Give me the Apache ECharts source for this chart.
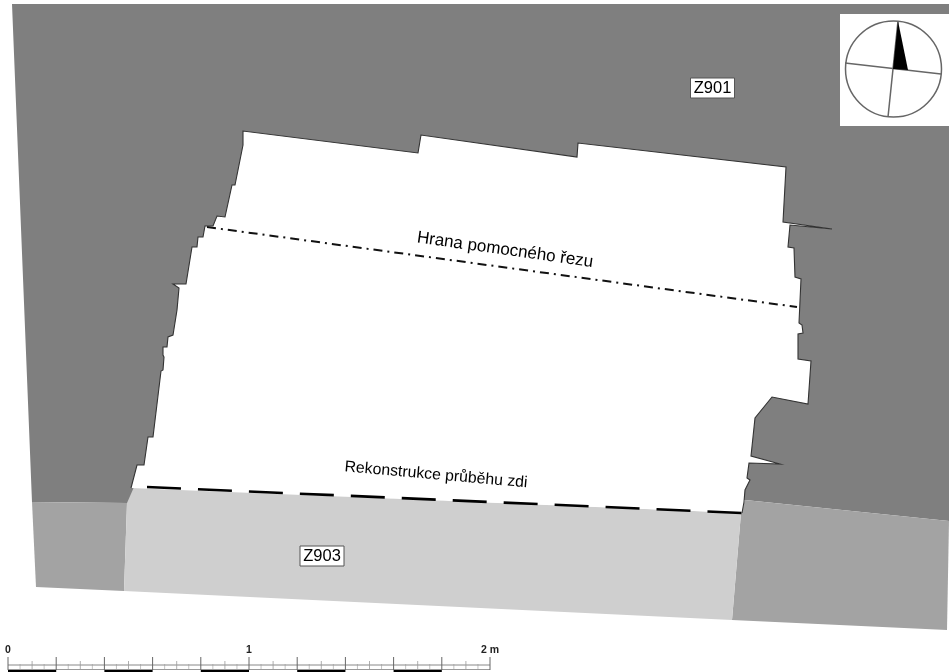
<!DOCTYPE html>
<html><head><meta charset="utf-8">
<style>html,body{margin:0;padding:0;background:#fff}#c{width:950px;height:672px}</style>
<script src="https://cdn.jsdelivr.net/npm/echarts@6/dist/echarts.min.js"></script>
</head><body><div id="c"></div>
<script>
// Plan outlines (x, y in image units)
const upperLayer = [[12,4],[949,4],[949,521],[745,500],[127,503],[32,502]];
const leftLower = [[32,502],[127,503],[124,591],[36,587]];
const rightLower = [[745,500],[949,521],[947,630],[732,620],[741,513]];
const wallFill = [[134,487],[741,513],[732,620],[124,591],[127,503]];
const cutEdge = [[131,488],[137,465],[144,465],[148,437],[153,437],[161,371],[163,370],[164,357],[163,355],[163,347],[167,347],[168,337],[173,335],[177,310],[179,288],[173,284],[186,284],[192,247],[197,247],[198,237],[203,237],[205,226],[213,226],[217,216],[225,217],[232,185],[235,185],[243,145],[243,131],[418,153],[421,135],[577,157],[578,143],[786,167],[783,222],[832,229],[790,225],[788,247],[794,248],[795,277],[801,279],[799,323],[802,325],[803,333],[798,334],[798,359],[811,361],[808,404],[772,397],[755,418],[751,456],[780,464],[749,463],[747,478],[750,480],[745,490],[744,502],[742,513]];
const helperCut = [[207,227],[797,307]];
const wallLine = [[147,487],[742,513]];
// Compass
const compassCentre = [893.5,69];
const compassRim = [893.5,21];
const compassBox = [[840,14],[950,14],[950,126],[840,126]];
const compassAxisNS = [[898,21],[888,117]];
const compassAxisWE = [[845,63],[941,74]];
const compassNeedle = [[898,21],[893,69],[908,70]];
// Labels
const labelTexts = ['Z901','Z903','Hrana pomocného řezu','Rekonstrukce průběhu zdi'];
const labelAnchors = [[712.5,88],[322,556],[505,250],[436,475]];
const labelAngles = [0,0,8,5];
const labelFonts = [16.5,16.5,17,15.8];
const labelBoxed = [true,true,false,false];
// Scale bar (metres)
const scaleLabels = ['0','1','2 m'];
const scaleLabelMetres = [0,1,2];
const scaleMajor = [0,0.2,0.4,0.6,0.8,1,1.2,1.4,1.6,1.8,2];
const scaleMiddle = [0.1,0.3,0.5,0.7,0.9,1.1,1.3,1.5,1.7,1.9];
const scaleMinor = [0.05,0.15,0.25,0.35,0.45,0.55,0.65,0.75,0.85,0.95,1.05,1.15,1.25,1.35,1.45,1.55,1.65,1.75,1.85,1.95];
const scaleBlack = [[0,0.2],[0.4,0.6],[0.8,1],[1.2,1.4],[1.6,1.8]];

const SX0 = 8, SPM = 241;
const mx = m => SX0 + m * SPM;

function shapeSeries(points, make) {
  return { type:'custom', coordinateSystem:'cartesian2d', silent:true, clip:false,
    data: points, encode:{x:0,y:1}, animation:false,
    renderItem:(p,api)=> {
      if (p.dataIndex !== 0) return null;
      const pts = points.map(q=>api.coord(q));
      return make(pts, api);
    } };
}
const poly = (pts,fill)=>({type:'polygon',shape:{points:pts},style:{fill,stroke:null}});
const line = (pts,style)=>({type:'polyline',shape:{points:pts},style:Object.assign({fill:null},style)});

const series = [
  shapeSeries(upperLayer, p=>poly(p,'#7f7f7f')),
  shapeSeries(leftLower, p=>poly(p,'#a3a3a3')),
  shapeSeries(rightLower, p=>poly(p,'#a3a3a3')),
  shapeSeries(wallFill, p=>poly(p,'#cfcfcf')),
  shapeSeries(cutEdge, p=>poly(p,'#ffffff')),
  shapeSeries(cutEdge, p=>line(p,{stroke:'#333',lineWidth:1.1})),
  shapeSeries(helperCut, p=>line(p,{stroke:'#111',lineWidth:2,lineDash:[9,5,2,5]})),
  shapeSeries(wallLine, p=>line(p,{stroke:'#000',lineWidth:2.6,lineDash:[34,17]})),
  shapeSeries(compassBox, p=>poly(p,'#ffffff')),
  shapeSeries(compassAxisNS, p=>line(p,{stroke:'#666',lineWidth:1.5})),
  shapeSeries(compassAxisWE, p=>line(p,{stroke:'#666',lineWidth:1.5})),
  shapeSeries(compassNeedle, p=>poly(p,'#000')),
  shapeSeries([compassCentre,compassRim], p=>({type:'circle',
    shape:{cx:p[0][0],cy:p[0][1],r:Math.abs(p[1][1]-p[0][1])},
    style:{fill:null,stroke:'#666',lineWidth:1.5}})),
  // text labels
  {type:'custom',coordinateSystem:'cartesian2d',silent:true,clip:false,animation:false,
   data:labelAnchors,encode:{x:0,y:1},
   renderItem:(p,api)=>{
     const i=p.dataIndex, c=api.coord(labelAnchors[i]);
     const children=[];
     if(labelBoxed[i]) children.push({type:'rect',shape:{x:-22,y:-10,width:44,height:20},
        style:{fill:'#fff',stroke:'#555',lineWidth:1}});
     children.push({type:'text',style:{x:0,y:0,text:labelTexts[i],align:'center',verticalAlign:'middle',
        font:labelFonts[i]+'px "Liberation Sans",Arial,sans-serif',fill:'#000'}});
     return {type:'group',x:c[0],y:c[1],rotation:-labelAngles[i]*Math.PI/180,children};
   }},
  // scale bar
  {type:'custom',coordinateSystem:'cartesian2d',silent:true,clip:false,animation:false,
   data:scaleBlack,encode:{x:0},
   renderItem:(p,api)=>{
     const b=scaleBlack[p.dataIndex], a=api.coord([mx(b[0]),669]), e=api.coord([mx(b[1]),672]);
     return {type:'rect',shape:{x:a[0],y:a[1],width:e[0]-a[0],height:e[1]-a[1]},style:{fill:'#000'}};
   }},
  {type:'custom',coordinateSystem:'cartesian2d',silent:true,clip:false,animation:false,
   data:[0],encode:{x:0},
   renderItem:(p,api)=>{
     const seg=(x1,y1,x2,y2,w,col)=>{const a=api.coord([x1,y1]),e=api.coord([x2,y2]);
        return {type:'line',shape:{x1:a[0],y1:a[1],x2:e[0],y2:e[1]},style:{stroke:col||'#999',lineWidth:w||0.8}}};
     const ch=[seg(mx(0),665,mx(2),665,1,'#888'),seg(mx(0),669.5,mx(2),669.5,1,'#999')];
     scaleMajor.forEach(m=>ch.push(seg(mx(m),657,mx(m),670,1,'#666')));
     scaleMiddle.forEach(m=>ch.push(seg(mx(m),661,mx(m),670,0.8)));
     scaleMinor.forEach(m=>ch.push(seg(mx(m),664,mx(m),670,0.6)));
     return {type:'group',children:ch};
   }},
  {type:'custom',coordinateSystem:'cartesian2d',silent:true,clip:false,animation:false,
   data:scaleLabelMetres,encode:{x:0},
   renderItem:(p,api)=>{
     const i=p.dataIndex,c=api.coord([mx(scaleLabelMetres[i]),650]);
     return {type:'text',x:c[0],y:c[1],style:{text:scaleLabels[i],align:'center',verticalAlign:'middle',
       font:'bold 10.5px "Liberation Sans",Arial,sans-serif',fill:'#222'}};
   }}
];

const chart = echarts.init(document.getElementById('c'),null,{renderer:'canvas'});
chart.setOption({
  animation:false, backgroundColor:'#ffffff',
  grid:{left:0,right:0,top:0,bottom:0},
  xAxis:{type:'value',min:0,max:950,show:false},
  yAxis:{type:'value',min:0,max:672,inverse:true,show:false},
  tooltip:{show:false}, legend:{show:false},
  series
});
</script></body></html>
